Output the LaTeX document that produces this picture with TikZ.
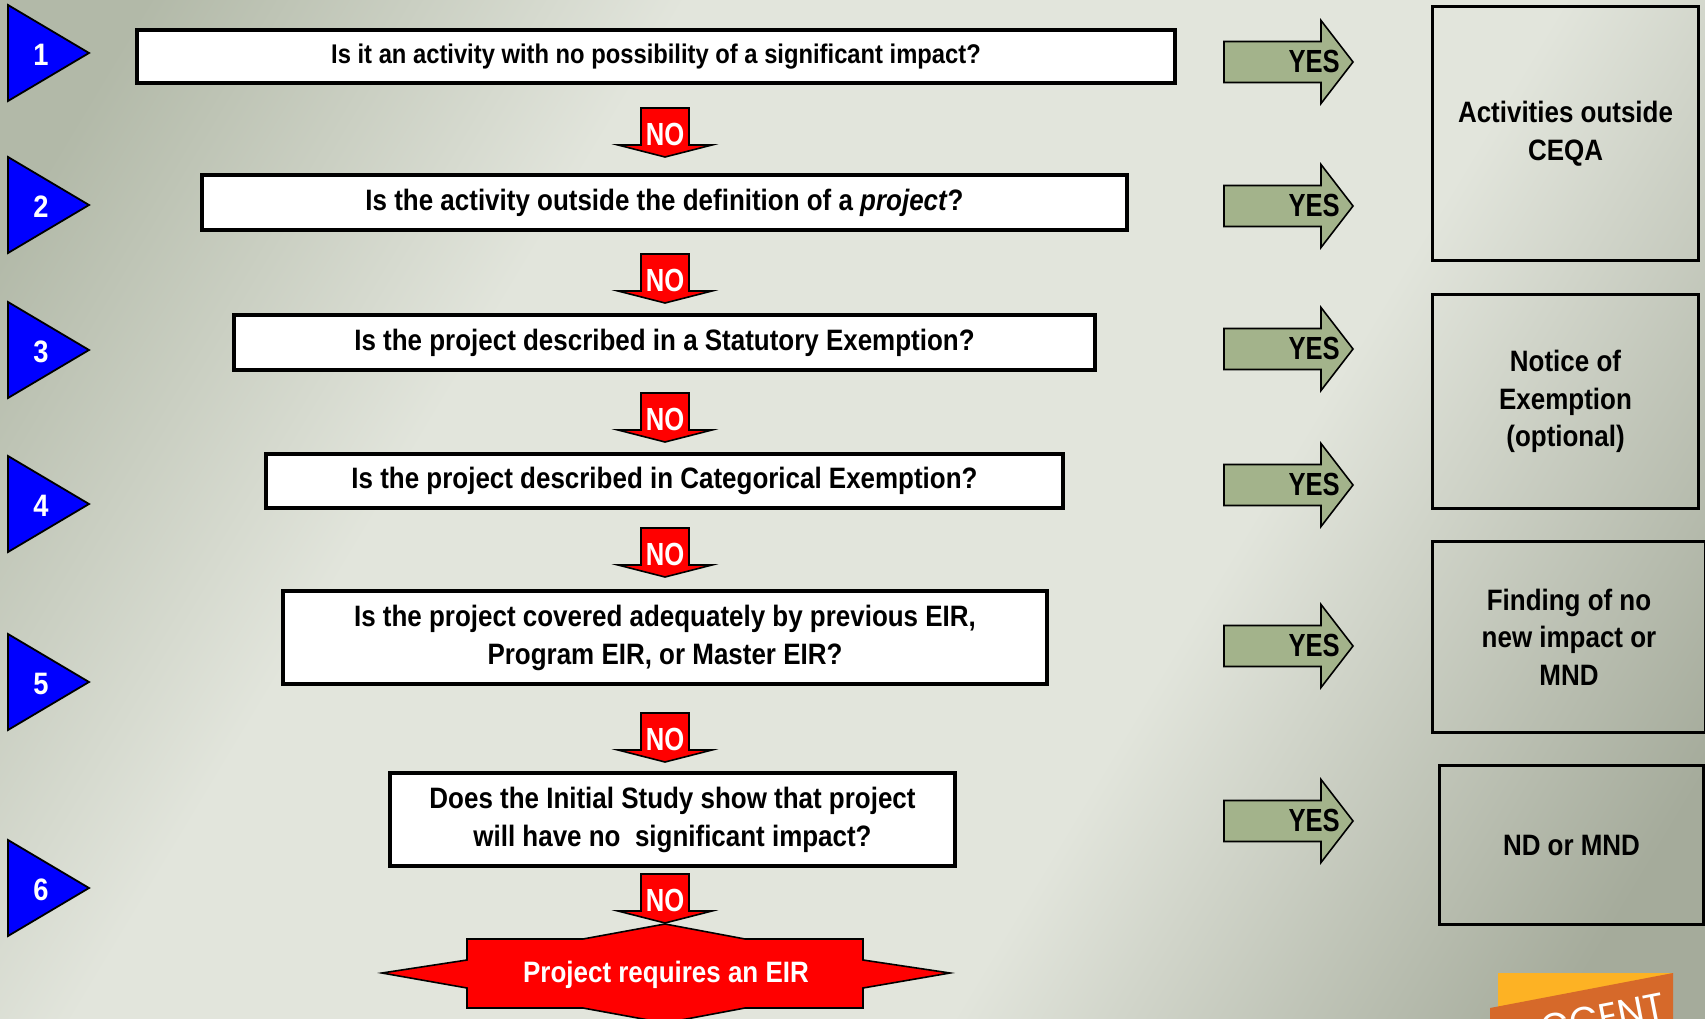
\documentclass[tikz,border=0pt]{standalone}
\usepackage{fontspec}
\setmainfont{Liberation Sans}[FakeStretch=0.88]
\newfontfamily\narrowfont{Liberation Sans}[FakeStretch=0.8]
\newfontfamily\logofont{Poppins}
\definecolor{bgA}{RGB}{178,185,168}
\definecolor{bgB}{RGB}{226,229,220}
\definecolor{bgC}{RGB}{165,171,155}
\definecolor{yesgreen}{RGB}{163,179,139}
\definecolor{triblue}{RGB}{0,0,255}
\definecolor{nored}{RGB}{255,0,0}
\definecolor{logoyellow}{RGB}{253,178,36}
\definecolor{logoorange}{RGB}{214,105,42}
\pgfdeclarehorizontalshading{bgshade}{100bp}{color(0bp)=(bgA); color(20bp)=(bgA);
  color(36bp)=(bgB); color(62bp)=(bgB); color(80bp)=(bgC); color(100bp)=(bgC)}
\tikzset{
  qbox/.style={draw=black, line width=4.5pt, fill=white, align=center, inner sep=0pt,
               font=\fontsize{29.5}{38}\selectfont\bfseries},
  rbox/.style={draw=black, line width=3pt, align=center, inner sep=0pt,
               font=\fontsize{29.5}{37.5}\selectfont\bfseries},
  trishape/.style={draw=black, line width=1.8pt, fill=triblue, line join=miter},
  numtxt/.style={text=white, inner sep=0pt, font=\fontsize{31}{32}\selectfont\bfseries},
  noshape/.style={draw=black, line width=1.6pt, fill=nored, line join=miter},
  notxt/.style={text=white, inner sep=0pt, font=\narrowfont\fontsize{32}{33}\selectfont\bfseries},
  yesshape/.style={draw=black, line width=1.6pt, fill=yesgreen, line join=miter},
  yestxt/.style={text=black, inner sep=0pt, font=\narrowfont\fontsize{32}{33}\selectfont\bfseries},
  eirtxt/.style={text=white, inner sep=0pt, font=\fontsize{29.5}{30}\selectfont\bfseries},
}
\newcommand\numtri[3]{%
  \draw[trishape] (8,#1-48) -- (89,#1) -- (8,#1+48) -- cycle;
  \node[numtxt] (#3) at (41,#1+2) {#2};}
\newcommand\noarrow[2]{%
  \draw[noshape] (641,#1) -- (689,#1) -- (689,#1+37) -- (712,#1+37) -- (665,#1+49)
     -- (618,#1+37) -- (641,#1+37) -- cycle;
  \node[notxt] (#2) at (665,#1+26) {NO};}
\newcommand\yesarrow[2]{%
  \draw[yesshape] (1224,#1-20.5) -- (1321,#1-20.5) -- (1321,#1-41.5) -- (1353,#1)
     -- (1321,#1+41.5) -- (1321,#1+20.5) -- (1224,#1+20.5) -- cycle;
  \node[yestxt, anchor=east] (#2) at (1340,#1-1) {YES};}
\begin{document}
\begin{tikzpicture}[x=1pt,y=-1pt]
\useasboundingbox (0,0) rectangle (1705,1019);
\clip (0,0) rectangle (1705,1019);
\shade[shading=bgshade, shading angle=-31] (0,0) rectangle (1705,1019);

% numbered triangles
\numtri{53}{1}{n1}
\numtri{205}{2}{n2}
\numtri{350}{3}{n3}
\numtri{504}{4}{n4}
\numtri{682}{5}{n5}
\numtri{888}{6}{n6}

% question boxes
\node[qbox, minimum width=1038pt, minimum height=53pt,
      font=\fontsize{27}{32}\selectfont\bfseries] (q1) at (656,56.5)
  {Is it an activity with no possibility of a significant impact?};
\node[qbox, minimum width=925pt, minimum height=55pt] (q2) at (664.5,202.5)
  {Is the activity outside the definition of a \textit{project}?};
\node[qbox, minimum width=861pt, minimum height=55pt] (q3) at (664.5,342.5)
  {Is the project described in a Statutory Exemption?};
\node[qbox, minimum width=797pt, minimum height=54pt] (q4) at (664.5,481)
  {Is the project described in Categorical Exemption?};
\node[qbox, minimum width=764pt, minimum height=93pt] (q5) at (665,637.5)
  {Is the project covered adequately by previous EIR,\\Program EIR, or Master EIR?};
\node[qbox, minimum width=565pt, minimum height=93pt] (q6) at (672.5,819.5)
  {Does the Initial Study show that project\\will have no\ \ significant impact?};

% NO arrows
\noarrow{108}{no1}
\noarrow{254}{no2}
\noarrow{393}{no3}
\noarrow{528}{no4}
\noarrow{713}{no5}
\noarrow{874}{no6}

% YES arrows
\yesarrow{62}{y1}
\yesarrow{206}{y2}
\yesarrow{349}{y3}
\yesarrow{485}{y4}
\yesarrow{646}{y5}
\yesarrow{821}{y6}

% result boxes
\node[rbox, minimum width=266pt, minimum height=254pt] (r1) at (1565.5,133.5)
  {Activities outside\\CEQA};
\node[rbox, minimum width=266pt, minimum height=214pt] (r2) at (1565.5,401.5)
  {Notice of\\Exemption\\(optional)};
\node[rbox, minimum width=273pt, minimum height=191pt] (r3) at (1569,637)
  {Finding of no\\new impact or\\MND};
\node[rbox, minimum width=264pt, minimum height=159pt] (r4) at (1571.5,845)
  {ND or MND};

% final EIR shape
\draw[noshape] (665,924) -- (745,939) -- (863,939) -- (863,960) -- (950,973)
  -- (863,988) -- (863,1008) -- (745,1008) -- (665,1023) -- (583,1008)
  -- (467,1008) -- (467,988) -- (382,973) -- (467,960) -- (467,939)
  -- (583,939) -- cycle;
\node[eirtxt] (eir) at (666,975) {Project requires an EIR};

% logo corner
\fill[logoyellow] (1498,973) rectangle (1673,1019);
\fill[logoorange] (1490,1008) -- (1673,973) -- (1673,1025) -- (1490,1025) -- cycle;
\node[text=white, inner sep=0pt, rotate=11, anchor=north east,
      font=\logofont\fontsize{38}{40}\selectfont] (logo) at (1662,992) {CCENT};
\end{tikzpicture}
\end{document}
